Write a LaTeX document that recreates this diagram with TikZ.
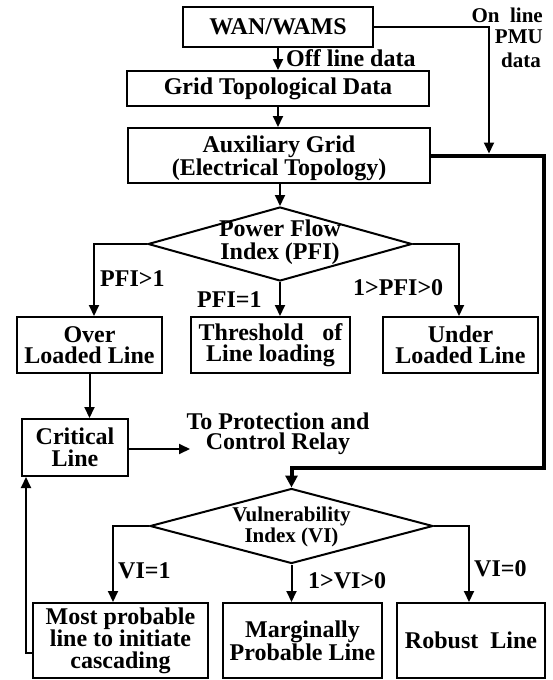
\documentclass[tikz,border=0pt]{standalone}
\usepackage{fontspec}
\setmainfont{Liberation Serif}
\usetikzlibrary{shapes.geometric,arrows.meta}
\newcommand{\bigf}{\fontsize{24}{21.5}\selectfont\bfseries}
\newcommand{\midf}{\fontsize{21}{21}\selectfont\bfseries}
\begin{document}
\begin{tikzpicture}[x=1pt,y=-1pt,
  box/.style={draw,line width=2pt,inner sep=0pt,align=center,font=\bigf},
  dia/.style={draw,diamond,line width=2pt,inner sep=0pt},
  lbl/.style={inner sep=0pt,font=\bigf},
  arr/.style={line width=2pt,-{Triangle[width=10pt,length=11pt]}},
  thk/.style={line width=4pt,-{Triangle[width=12pt,length=12pt]}}]
\useasboundingbox (0,0) rectangle (553,680);

% boxes
\node[box,minimum width=190pt,minimum height=40pt] (wan) at (278,27) {WAN/WAMS};
\node[box,minimum width=302pt,minimum height=35pt] (topo) at (278,88.5) {Grid Topological Data};
\node[box,minimum width=302pt,minimum height=55pt,text depth=0pt,font=\fontsize{24}{20.5}\selectfont\bfseries] (aux) at (279,155.5) {Auxiliary Grid\\(Electrical Topology)};
\node[dia,minimum width=264pt,minimum height=74pt] (pfi) at (280,244) {};
\node[lbl,align=center,font=\fontsize{24}{23}\selectfont\bfseries] (pfit) at (280,242) {Power Flow\\Index (PFI)};
\node[box,minimum width=145pt,minimum height=56pt] (over) at (89.5,345) {Over\\Loaded Line};
\node[box,minimum width=159pt,minimum height=56pt] (thr) at (270.5,345) {Threshold\hspace{0.78em}of\\Line loading};
\node[box,minimum width=155pt,minimum height=56pt] (under) at (460.5,345) {Under\\Loaded Line};
\node[box,minimum width=106pt,minimum height=57pt] (crit) at (75,447.5) {Critical\\Line};
\node[lbl,align=center,font=\fontsize{24}{20.5}\selectfont\bfseries] (relayt) at (278,434) {To Protection and\\Control Relay};
\node[dia,minimum width=283pt,minimum height=75pt] (vuln) at (291.5,526) {};
\node[lbl,align=center,font=\midf] (vulnt) at (291.5,527) {Vulnerability\\Index (VI)};
\node[box,minimum width=175pt,minimum height=75pt] (most) at (120.5,640.5) {Most probable\\line to initiate\\cascading};
\node[box,minimum width=159pt,minimum height=75pt] (marg) at (302.5,640.5) {Marginally\\Probable Line};
\node[box,minimum width=148pt,minimum height=75pt] (rob) at (471,640.5) {Robust\hspace{0.5em}Line};

% labels
\node[lbl,anchor=base west] (offl) at (286,66) {Off line data};
\node[lbl,font=\midf,anchor=base east] (onl1) at (543,23) {On\enspace line};
\node[lbl,font=\midf,anchor=base east] (onl2) at (543,43) {PMU};
\node[lbl,font=\midf,anchor=base east] (onl3) at (541,67) {data};
\node[lbl,anchor=base west] (l1) at (100,286) {PFI>1};
\node[lbl,anchor=base west] (l2) at (197,307) {PFI=1};
\node[lbl,anchor=base west] (l3) at (353,295) {1>PFI>0};
\node[lbl,anchor=base west] (l4) at (118,578) {VI=1};
\node[lbl,anchor=base west] (l5) at (308,588) {1>VI>0};
\node[lbl,anchor=base west] (l6) at (474,576) {VI=0};

% coordinates
\coordinate (pmu) at (489,153.5);
\coordinate (r1) at (544,155.5);
\coordinate (r2) at (544,468);
\coordinate (relay) at (190,449);

% connectors
\draw[arr] (wan) -- (topo);
\draw[arr] (topo.south) -- (topo.south |- aux.north);
\draw[arr] (wan.east) -| (pmu);
\draw[arr] (aux.south -| pfi.north) -- (pfi.north);
\draw[arr] (pfi.west) -| ([xshift=4.5pt]over.north);
\draw[arr] (pfi.south) -- (pfi.south |- thr.north);
\draw[arr] (pfi.east) -| ([xshift=-1.5pt]under.north);
\draw[arr] (over.south) -- (over.south |- crit.north);
\draw[arr] (crit.east |- relay) -- (relay);
\draw[thk] (aux.east) -- (r1) -- (r2) -- (r2 -| vuln.north) -- (vuln.north);
\draw[arr] (vuln.west) -| ([xshift=-7.5pt]most.north);
\draw[arr] (vuln.south) -- (vuln.south |- marg.north);
\draw[arr] (vuln.east) -| ([xshift=-2pt]rob.north);
\draw[arr] ([yshift=-12.5pt]most.west) -| ([xshift=5pt]crit.south west);
\end{tikzpicture}
\end{document}
